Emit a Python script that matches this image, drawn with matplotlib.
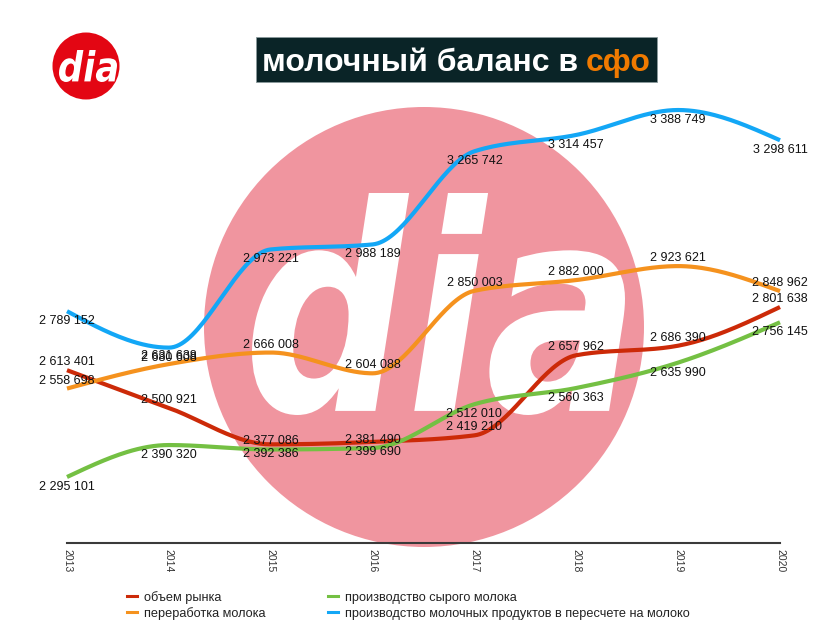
import numpy as np
import matplotlib
matplotlib.use("Agg")
import matplotlib.pyplot as plt
from matplotlib.patches import Circle, Rectangle, PathPatch
from matplotlib.textpath import TextPath
from matplotlib.font_manager import FontProperties
from matplotlib.transforms import Affine2D
from matplotlib.lines import Line2D

plt.rcParams['font.family'] = ['Liberation Sans', 'DejaVu Sans']

# ---------------- data ----------------
years = [2013, 2014, 2015, 2016, 2017, 2018, 2019, 2020]
market = [2613401, 2500921, 2392386, 2399690, 2419210, 2657962, 2686390, 2801638]
processing = [2558698, 2631638, 2666008, 2604088, 2850003, 2882000, 2923621, 2848962]
raw_milk = [2295101, 2390320, 2377086, 2381490, 2512010, 2560363, 2635990, 2756145]
dairy_products = [2789152, 2680608, 2973221, 2988189, 3265742, 3314457, 3388749, 3298611]

series_names = ["объем рынка", "переработка молока",
                "производство сырого молока",
                "производство молочных продуктов в пересчете на молоко"]
title_main = "молочный баланс в "
title_accent = "сфо"

# ---------------- style ----------------
colors = ['#cc2a08', '#f5921e', '#74c043', '#13a7f6']
# label placement per point: 'a' above, 'b' below
label_pos = [
    ['a', 'a', 'b', 'b', 'a', 'a', 'a', 'a'],
    ['a', 'a', 'a', 'a', 'a', 'a', 'a', 'a'],
    ['b', 'b', 'a', 'a', 'b', 'b', 'b', 'b'],
    ['b', 'b', 'b', 'b', 'b', 'b', 'b', 'b'],
]


def monotone_curve(x, y, n=40):
    x = np.asarray(x, float)
    y = np.asarray(y, float)
    h = np.diff(x)
    s = np.diff(y) / h
    m = np.zeros_like(y)
    for i in range(1, len(x) - 1):
        s0, s1 = s[i - 1], s[i]
        p = (s0 * h[i] + s1 * h[i - 1]) / (h[i - 1] + h[i])
        m[i] = (np.sign(s0) + np.sign(s1)) * min(abs(s0), abs(s1), 0.5 * abs(p))
    m[0] = (3 * s[0] - m[1]) / 2
    m[-1] = (3 * s[-1] - m[-2]) / 2
    xs, ys = [], []
    for i in range(len(x) - 1):
        t = np.linspace(0, 1, n)
        h00 = 2 * t**3 - 3 * t**2 + 1
        h10 = t**3 - 2 * t**2 + t
        h01 = -2 * t**3 + 3 * t**2
        h11 = t**3 - t**2
        xs.append(x[i] + t * h[i])
        ys.append(h00 * y[i] + h10 * h[i] * m[i] + h01 * y[i + 1] + h11 * h[i] * m[i + 1])
    return np.concatenate(xs), np.concatenate(ys)


W, H = 822, 632
fig = plt.figure(figsize=(W / 100, H / 100), dpi=100)

# background layer in pixel coordinates
bg = fig.add_axes([0, 0, 1, 1], zorder=-1)
bg.set_xlim(0, W)
bg.set_ylim(H, 0)
bg.axis('off')


def logo_text(axb, box, color):
    x0, x1, y0, y1 = box
    tp = TextPath((0, 0), "dia", size=1,
                  prop=FontProperties(family='DejaVu Sans', weight='bold', style='oblique'))
    bb = tp.get_extents()
    tr = (Affine2D().translate(-bb.x0, -bb.y0)
          .scale((x1 - x0) / bb.width, -(y1 - y0) / bb.height)
          .translate(x0, y1))
    axb.add_patch(PathPatch(tr.transform_path(tp), facecolor=color, edgecolor='none'))


# watermark
bg.add_patch(Circle((424, 327), 220, facecolor='#f0959f', edgecolor='none'))
logo_text(bg, (252, 625, 193, 415), 'white')

# small logo
bg.add_patch(Circle((86, 66), 33.5, facecolor='#e30613', edgecolor='none'))
logo_text(bg, (59, 117, 50, 82), 'white')

# title box
bg.add_patch(Rectangle((256, 37), 401, 45, facecolor='#0a2427', edgecolor='#8a9a9c', lw=0.6))
bg.text(262, 71, title_main, color='white', fontsize=23, fontweight='bold',
        ha='left', va='baseline')
bg.text(651, 71, title_accent, color='#f07a00', fontsize=23, fontweight='bold',
        ha='right', va='baseline')

# main axes
left, right, top, bottom = 67, 780, 100, 543
ax = fig.add_axes([left / W, 1 - bottom / H, (right - left) / W, (bottom - top) / H])
ax.patch.set_visible(False)
ax.set_xlim(years[0], years[-1])
ax.set_ylim(2098400, 3418600)

all_series = [market, processing, raw_milk, dairy_products]
for vals, col, pos in zip(all_series, colors, label_pos):
    cx, cy = monotone_curve(years, vals)
    ax.plot(cx, cy, color=col, lw=3.0, solid_capstyle='butt', clip_on=False, zorder=3)
    for xv, v, p in zip(years, vals, pos):
        txt = f"{v:,}".replace(',', ' ')
        dy = 8 if p == 'a' else -10
        ax.annotate(txt, (xv, v), xytext=(0, dy), textcoords='offset pixels',
                    ha='center', va='center', fontsize=9, color='#111111',
                    annotation_clip=False, zorder=5)

for sp in ['left', 'right', 'top']:
    ax.spines[sp].set_visible(False)
ax.spines['bottom'].set_color('#3a3a3a')
ax.spines['bottom'].set_linewidth(1.5)
ax.set_yticks([])
ax.set_xticks(years)
ax.set_xticklabels([str(y) for y in years], rotation=-90, fontsize=7.5, color='#333333')
ax.tick_params(axis='x', length=0, pad=4)

# legend (manual)
legend_xy = [(127, 596), (127, 612), (328, 596), (328, 612)]
for (lx, ly), col, name in zip(legend_xy, colors, series_names):
    fig.add_artist(Line2D([lx / W, (lx + 10) / W], [1 - ly / H, 1 - ly / H],
                          color=col, lw=2.2, transform=fig.transFigure))
    fig.text((lx + 17) / W, 1 - (ly + 1.5) / H, name, fontsize=9.2, color='#222222',
             ha='left', va='center')

fig.savefig('out.png', dpi=100)
